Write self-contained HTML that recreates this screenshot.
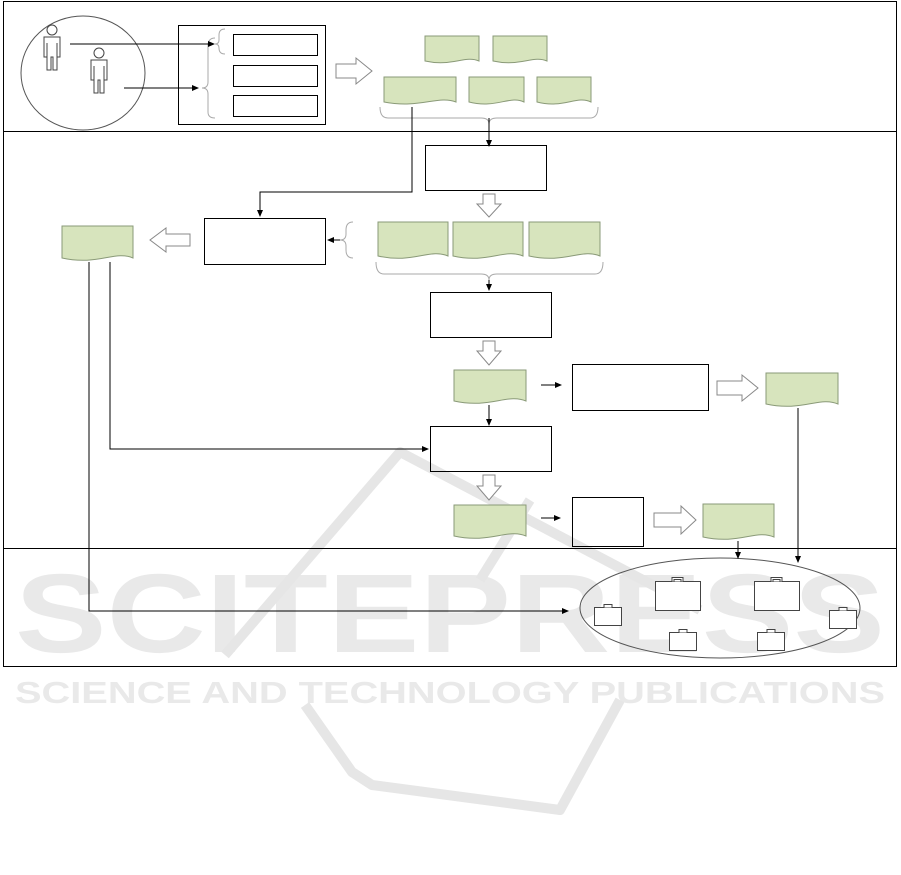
<!DOCTYPE html>
<html><head><meta charset="utf-8"><style>html,body{margin:0;padding:0;background:#fff}svg{display:block}</style></head><body>
<svg width="901" height="875" viewBox="0 0 901 875" xmlns="http://www.w3.org/2000/svg" font-family="Liberation Sans, sans-serif">
<defs>
<marker id="a" markerWidth="8" markerHeight="8" refX="6" refY="4" orient="auto" markerUnits="userSpaceOnUse"><path d="M0,1 L7,4 L0,7 z" fill="#000"/></marker>
</defs>
<!-- watermark -->
<g fill="#e9e9e9">
<text x="15" y="652" font-size="112" font-weight="bold" textLength="870" lengthAdjust="spacingAndGlyphs">SCITEPRESS</text>
<text x="15" y="703" font-size="31" font-weight="bold" textLength="870" lengthAdjust="spacingAndGlyphs">SCIENCE AND TECHNOLOGY PUBLICATIONS</text>
</g>
<g fill="none" stroke="#e6e6e6" stroke-width="10" stroke-linejoin="round">
<path d="M225,655 L400,452 L700,610"/>
<path d="M480,580 L530,500"/>
<path d="M305,705 L352,772 L372,785 L560,810 L620,700"/>
</g>
<g fill="none" stroke="#000" stroke-width="1">
<rect x="3.5" y="1.5" width="893" height="665"/>
<line x1="3" y1="131.5" x2="897" y2="131.5"/>
<line x1="3" y1="548.5" x2="897" y2="548.5"/>
<ellipse cx="83" cy="73" rx="62" ry="57" stroke="#555"/>
<rect x="178.5" y="25.5" width="147" height="99"/>
<rect x="233.5" y="34.5" width="84" height="21"/>
<rect x="233.5" y="65.5" width="84" height="21"/>
<rect x="233.5" y="95.5" width="84" height="21"/>
<rect x="425.5" y="145.5" width="121" height="45"/>
<rect x="204.5" y="218.5" width="121" height="46"/>
<rect x="430.5" y="292.5" width="121" height="45"/>
<rect x="572.5" y="364.5" width="136" height="46"/>
<rect x="430.5" y="426.5" width="121" height="45"/>
<rect x="572.5" y="497.5" width="71" height="49"/>
<ellipse cx="720" cy="608" rx="140" ry="50" stroke="#555"/>
</g>
<!-- persons -->
<g fill="#fff" stroke="#444">
<circle cx="52" cy="30" r="5"/><path d="M44,37 h16 v20 h-3 v-14 v27 h-4 v-13 h-2 v13 h-4 v-27 v14 h-3 z"/>
<circle cx="99" cy="53" r="5"/><path d="M91,60 h16 v20 h-3 v-14 v27 h-4 v-13 h-2 v13 h-4 v-27 v14 h-3 z"/>
</g>
<!-- braces -->
<g fill="none" stroke="#aaa">
<path d="M225,38 q-6,0 -6,6 v5 q0,4 -4,4 q4,0 4,4 v0 q0,6 6,6" transform="translate(0,-9)"/>
<path d="M215,38 q-7,0 -7,8 v36 q0,6 -6,6 q6,0 6,6 v18 q0,6 7,6"/>
<path d="M380,107 q0,11 8,11 h93 q8,0 8,6 q0,-6 8,-6 h93 q8,0 8,-11"/>
<path d="M376,262 q0,12 8,12 h97 q8,0 8,6 q0,-6 8,-6 h98 q8,0 8,-12"/>
<path d="M353,222 q-7,0 -7,8 v4 q0,6 -6,6 q6,0 6,6 v4 q0,8 7,8"/>
</g>
<!-- connectors -->
<g fill="none" stroke="#000" marker-end="url(#a)">
<path d="M70,44 H214"/>
<path d="M124,88 H198"/>
<path d="M489,118 V146"/>
<path d="M412,107 V192 H260 V216"/>
<path d="M489,280 V290"/>
<path d="M340,240 H328"/>
<path d="M89,262 V611 H568"/>
<path d="M110,262 V449 H428"/>
<path d="M489,405 V425"/>
<path d="M541,385 H561"/>
<path d="M541,518 H560"/>
<path d="M738,541 V558"/>
<path d="M798,408 V562"/>
</g>
<!-- hollow arrows -->
<g fill="#fff" stroke="#888">
<path d="M336,64 h20 v-6 l16,13 l-16,13 v-6 h-20 z"/>
<path d="M483,194 h12 v10 h6 l-12,13 l-12,-13 h6 z"/>
<path d="M190,234 h-24 v-6 l-16,12 l16,12 v-6 h24 z"/>
<path d="M483,341 h12 v10 h6 l-12,14 l-12,-14 h6 z"/>
<path d="M717,381 h25 v-6 l16,13 l-16,13 v-6 h-25 z"/>
<path d="M483,475 h12 v11 h6 l-12,14 l-12,-14 h6 z"/>
<path d="M654,513 h27 v-7 l15,14 l-15,14 v-7 h-27 z"/>
</g>
<!-- documents -->
<g fill="#d7e4bd" stroke="#8a9a78">
<path d="M425,36 h54 v25 c-14,-6 -27,6 -54,0 z"/>
<path d="M493,36 h54 v25 c-14,-6 -27,6 -54,0 z"/>
<path d="M384,77 h72 v25 c-18,-7 -36,7 -72,0 z"/>
<path d="M469,77 h55 v25 c-14,-7 -28,7 -55,0 z"/>
<path d="M537,77 h54 v25 c-14,-7 -28,7 -54,0 z"/>
<path d="M378,222 h70 v34 c-18,-8 -35,8 -70,0 z"/>
<path d="M453,222 h70 v34 c-18,-8 -35,8 -70,0 z"/>
<path d="M529,222 h71 v34 c-18,-8 -35,8 -71,0 z"/>
<path d="M62,226 h71 v32 c-18,-8 -35,8 -71,0 z"/>
<path d="M454,370 h72 v31 c-18,-8 -36,8 -72,0 z"/>
<path d="M766,373 h72 v31 c-18,-8 -36,8 -72,0 z"/>
<path d="M454,505 h72 v31 c-18,-8 -36,8 -72,0 z"/>
<path d="M703,504 h71 v33 c-18,-8 -35,8 -71,0 z"/>
</g>
<!-- briefcases -->
<g fill="#fff" stroke="#444">
<g transform="translate(655,576)"><rect x="0.5" y="5.5" width="45" height="29"/><path d="M17,5.5 v-4 h11 v4 M19,5.5 v-2 h7 v2"/></g>
<g transform="translate(754,576)"><rect x="0.5" y="5.5" width="45" height="29"/><path d="M17,5.5 v-4 h11 v4 M19,5.5 v-2 h7 v2"/></g>
<g transform="translate(594,603)"><rect x="0.5" y="4.5" width="27" height="18"/><path d="M10,4.5 v-3 h8 v3"/></g>
<g transform="translate(829,606)"><rect x="0.5" y="4.5" width="27" height="18"/><path d="M10,4.5 v-3 h8 v3"/></g>
<g transform="translate(669,628)"><rect x="0.5" y="4.5" width="27" height="18"/><path d="M10,4.5 v-3 h8 v3"/></g>
<g transform="translate(757,628)"><rect x="0.5" y="4.5" width="27" height="18"/><path d="M10,4.5 v-3 h8 v3"/></g>
</g>
</svg>
</body></html>
